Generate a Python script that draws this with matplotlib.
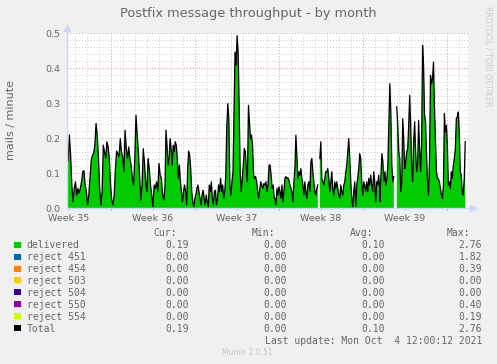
import numpy as np
import matplotlib.pyplot as plt
from matplotlib.patches import Rectangle

# mails / minute in four stretches (2h steps, roughly)
seg_a = [0.132, 0.137, 0.209, 0.151, 0.066, 0.018, 0.056, 0.075, 0.037, 0.056, 0.042, 0.056,
         0.075, 0.104, 0.107, 0.066, 0.047, 0.009, 0.037, 0.085, 0.137, 0.151, 0.156, 0.18,
         0.242, 0.209, 0.142, 0.056, 0.009, 0.047, 0.18, 0.161, 0.142, 0.19, 0.175, 0.142,
         0.066, 0.023, 0.009, 0.037, 0.113, 0.163, 0.156, 0.147, 0.199, 0.161, 0.147, 0.104,
         0.223, 0.17, 0.142, 0.175, 0.142, 0.123, 0.085, 0.066, 0.142, 0.266, 0.209, 0.161,
         0.094, 0.023, 0.066, 0.17, 0.132, 0.075, 0.047, 0.142, 0.113, 0.066, 0.037, 0.004,
         0.066, 0.056, 0.075, 0.047, 0.128, 0.094, 0.085, 0.037, 0.023, 0.066]
seg_b = [0.223, 0.18, 0.123, 0.142, 0.199, 0.17, 0.123, 0.18, 0.161, 0.19, 0.18, 0.142,
         0.085, 0.123, 0.075, 0.047, 0.018, 0.047, 0.066, 0.047, 0.009, 0.113, 0.163, 0.151,
         0.113, 0.047, 0.018, 0.004, 0.028, 0.037, 0.056, 0.066, 0.047, 0.028, 0.009, 0.037,
         0.051, 0.028, 0.009, 0.037, 0.018, 0.004, 0.066, 0.047, 0.075, 0.028, 0.009, 0.047,
         0.051, 0.009, 0.028, 0.066, 0.047, 0.085, 0.047, 0.066, 0.028, 0.047, 0.094, 0.237,
         0.299, 0.256, 0.066, 0.037, 0.075, 0.104, 0.285, 0.447, 0.409, 0.494, 0.447, 0.294,
         0.104, 0.047, 0.085, 0.123, 0.17, 0.161, 0.113, 0.075, 0.294, 0.247, 0.199, 0.209,
         0.18, 0.094, 0.085, 0.09, 0.075, 0.047, 0.028, 0.056, 0.075, 0.066, 0.056, 0.07,
         0.066, 0.075, 0.047, 0.066, 0.123, 0.123, 0.094, 0.056, 0.066, 0.028]
seg_c = [0.028, 0.009, 0.056, 0.037, 0.061, 0.047, 0.028, 0.066, 0.018, 0.047, 0.085, 0.09,
         0.085, 0.087, 0.08, 0.066, 0.056, 0.047, 0.018, 0.075, 0.113, 0.209, 0.151, 0.085,
         0.104, 0.094, 0.113, 0.085, 0.066, 0.037, 0.075, 0.047, 0.028, 0.066, 0.075, 0.047,
         0.132, 0.142, 0.104, 0.075, 0.047, 0.037, 0.056, 0.066, np.nan, 0.142, 0.19, 0.085,
         0.075, 0.066, 0.085, 0.104, 0.104, 0.113, 0.085, 0.047, 0.075, 0.104, 0.056, 0.037,
         0.075, 0.056, 0.075, 0.056, 0.037, 0.028, 0.066, 0.047, 0.037, 0.066, 0.075, 0.104,
         0.123, 0.161, 0.199, 0.142, 0.075, 0.028, 0.004, 0.047, 0.075, 0.004, 0.066, 0.085,
         0.113, 0.156, 0.142, 0.075, 0.037, 0.075, 0.066, 0.047, 0.075, 0.047, 0.085, 0.066,
         0.094, 0.066, 0.047, 0.104, 0.075, 0.018, 0.075, 0.066, 0.094, 0.056]
seg_d = [0.018, 0.094, 0.156, 0.132, 0.075, 0.104, 0.066, 0.085, 0.123, 0.237, 0.356, 0.275,
         0.123, 0.075, 0.09, np.nan, np.nan, 0.29, 0.237, 0.161, 0.142, 0.047, 0.075, 0.256,
         0.199, 0.113, 0.132, 0.161, 0.17, 0.237, 0.323, 0.237, 0.123, 0.075, 0.19, 0.247,
         0.161, 0.104, 0.123, 0.251, 0.17, 0.104, 0.18, 0.466, 0.409, 0.266, 0.247, 0.151,
         0.075, 0.037, 0.142, 0.38, 0.356, 0.37, 0.418, 0.285, 0.199, 0.104, 0.085, 0.083,
         0.075, 0.056, 0.037, 0.028, 0.066, 0.27, 0.218, 0.237, 0.18, 0.066, 0.075, 0.056,
         0.104, 0.085, 0.123, 0.142, 0.17, 0.256, 0.261, 0.275, 0.218, 0.104, 0.094, 0.047,
         0.037, 0.085, 0.19]
# day span (from graph start) covered by each stretch
seg_days = [(0.0, 8.17), (8.25, 17.27), (17.33, 26.06), (26.08, 33.19)]

week_labels = ['Week 35', 'Week 36', 'Week 37', 'Week 38', 'Week 39']

names = ['delivered', 'reject 451', 'reject 454', 'reject 503', 'reject 504',
         'reject 550', 'reject 554', 'Total']
colors = ['#00CC00', '#0066B3', '#FF8000', '#FFCC00', '#330099', '#990099', '#CCFF00', '#000000']
cur = [0.19, 0.00, 0.00, 0.00, 0.00, 0.00, 0.00, 0.19]
mins = [0.00, 0.00, 0.00, 0.00, 0.00, 0.00, 0.00, 0.00]
avg = [0.10, 0.00, 0.00, 0.00, 0.00, 0.00, 0.00, 0.10]
maxs = [2.76, 1.82, 0.39, 0.00, 0.00, 0.40, 0.19, 2.76]

W, H = 497, 364
def fx(x): return x / W
def fy(y): return 1 - y / H

txt = '#666666'
fig = plt.figure(figsize=(W / 100, H / 100), dpi=100, facecolor='#F0F0F0')
ax = fig.add_axes([fx(67), fy(208), 401 / W, 174.5 / H], facecolor='white')

x = np.concatenate([np.linspace(a, b, len(s)) for (a, b), s in zip(seg_days, [seg_a, seg_b, seg_c, seg_d])])
y = np.array(seg_a + seg_b + seg_c + seg_d)

xmax = 33.42
ax.set_xlim(0, xmax)
ax.set_ylim(0, 0.5)

# grid (rrdtool style dotted)
dots = (0, (1, 2))
for d in np.arange(0.67, xmax, 1.0):
    major = abs((d - 3.67) / 7 - round((d - 3.67) / 7)) < 0.01
    ax.axvline(d, color='#f09090' if major else '#cccccc', lw=0.7, ls=dots, zorder=0)
for v in np.arange(0.02, 0.501, 0.02):
    major = abs(v * 10 - round(v * 10)) < 0.01
    ax.axhline(v, color='#f09090' if major else '#cccccc', lw=0.7, ls=dots, zorder=0)

ax.fill_between(x, 0, y, color='#00CC00', lw=0, zorder=2)
ax.plot(x, y, color='black', lw=0.9, zorder=3)

for s in ax.spines.values():
    s.set_visible(False)
axc = '#CFD6F8'
ax.plot([0, 0], [0, 1.03], color=axc, lw=1, transform=ax.transAxes, clip_on=False, zorder=4)
ax.plot([0, 1.012], [0, 0], color=axc, lw=1, transform=ax.transAxes, clip_on=False, zorder=4)
ax.plot([0], [1.03], marker='^', ms=4, color=axc, transform=ax.transAxes, clip_on=False)
ax.plot([1.012], [0], marker='>', ms=4, color=axc, transform=ax.transAxes, clip_on=False)

ax.set_yticks(np.arange(0, 0.51, 0.1))
ax.set_yticklabels(['%.1f' % v for v in np.arange(0, 0.51, 0.1)])
ax.tick_params(axis='y', length=0, pad=5, labelsize=6.8, labelcolor=txt)
ax.set_xticks([0.17 + 7 * i for i in range(5)])
ax.set_xticklabels(week_labels)
ax.set_xticks([3.67 + 7 * i for i in range(5)], minor=True)
ax.tick_params(axis='x', which='major', length=1.5, width=0.7, color='#bbbbbb', pad=2.5,
               labelsize=6.8, labelcolor=txt)
ax.tick_params(axis='x', which='minor', length=1.5, width=0.7, color='#f09090')

fig.text(fx(248.5), fy(17.3), 'Postfix message throughput - by month', ha='center',
         va='baseline', fontsize=9.3, color=txt)
fig.text(fx(11.5), fy(120), 'mails / minute', rotation=90, ha='center', va='center',
         fontsize=8, color=txt)
fig.text(fx(488), fy(56), 'RRDTOOL / TOBI OETIKER', rotation=270, ha='center', va='center',
         fontsize=5.7, color='#cccccc')

# legend
mono = dict(family='DejaVu Sans Mono', fontsize=7, color=txt, va='baseline')
col_r = [189.3, 287, 385, 482]
for cx, head in zip(col_r, ['Cur:', 'Min:', 'Avg:', 'Max:']):
    fig.text(fx(cx - 12), fy(236), head, ha='right', **mono)
for i, name in enumerate(names):
    base = 248.3 + 11.95 * i
    fig.patches.append(Rectangle((fx(14), fy(base - 0.7)), 6.5 / W, 6 / H, transform=fig.transFigure,
                                 facecolor=colors[i], edgecolor='none'))
    fig.text(fx(26.7), fy(base), name, ha='left', **mono)
    for cx, vals in zip(col_r, [cur, mins, avg, maxs]):
        fig.text(fx(cx), fy(base), '%.2f' % vals[i], ha='right', **mono)
fig.text(fx(482), fy(344.3), 'Last update: Mon Oct  4 12:00:12 2021', ha='right', **mono)
fig.text(fx(248), fy(355.3), 'Munin 2.0.51', ha='center', va='baseline', fontsize=5.6,
         color='#c8c8c8')

fig.savefig('out.png', dpi=100, facecolor=fig.get_facecolor())
